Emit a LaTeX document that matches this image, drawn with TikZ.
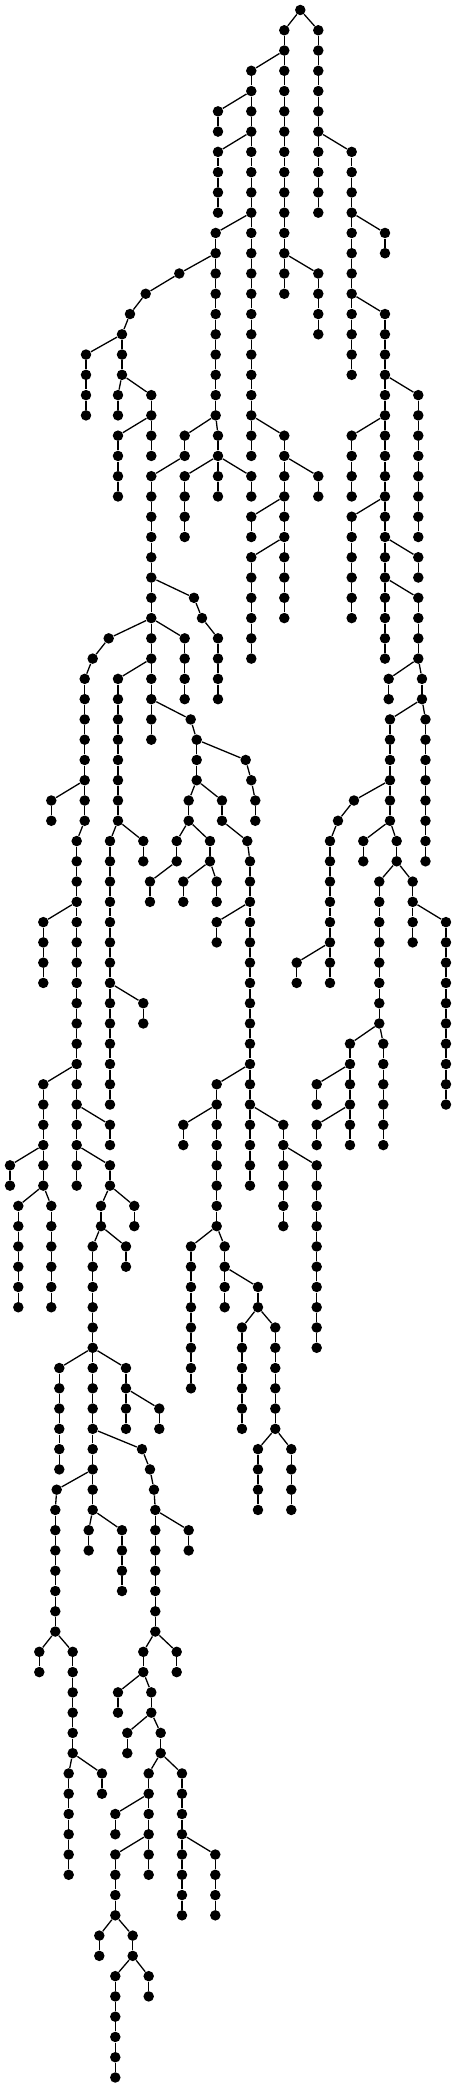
\documentclass[tikz,border=0pt]{standalone}
\usepackage{tikz}

% a vertical run of vertices: name, x, first row, last row, parent
\newcommand{\vchain}[5]{%
  \foreach \k [remember=\k as \prev (initially #3)] in {#3,...,#4}{%
    \node[vertex] (#1-\k) at (#2,\k) {};
    \ifnum\k>#3\relax \draw[link] (#1-\prev) -- (#1-\k);\fi
  }%
  \draw[link] (#5) -- (#1-#3);%
}

\begin{document}
\begin{tikzpicture}[
    x=0.5pt, y=-10.135pt,
    vertex/.style={circle, fill=black, inner sep=0pt, minimum size=5.25pt},
    link/.style={line width=0.65pt, black}
]
    \useasboundingbox (0,-0.4933) rectangle (456,102.47);

    % Root
    \node[vertex] (root) at (300.3,0) {};

    % Upper part
    \vchain{a}{284.3}{1}{14}{root}
    \vchain{b}{318.3}{1}{10}{root}
    \vchain{c}{251.3}{3}{22}{a-2}
    \vchain{d}{218}{5}{6}{c-4}
    \vchain{e}{218}{7}{10}{c-6}
    \vchain{f}{351.7}{7}{18}{b-6}
    \vchain{g}{215.7}{11}{20}{c-10}
    \vchain{h}{385}{11}{12}{f-10}
    \vchain{i}{318.3}{13}{16}{a-12}
    \vchain{j}{179.3}{13}{13}{g-12}
    \vchain{j}{145.7}{14}{14}{j-13}
    \vchain{j}{130}{15}{15}{j-14}
    \vchain{k}{122}{16}{18}{j-15}
    \vchain{l}{385}{15}{32}{f-14}
    \vchain{m}{86}{17}{20}{k-16}
    \vchain{n}{118}{19}{20}{k-18}
    \vchain{o}{151.3}{19}{22}{k-18}
    \vchain{p}{418.3}{19}{26}{l-18}
    \vchain{q}{118}{21}{24}{o-20}
    \vchain{r}{184.7}{21}{22}{g-20}
    \vchain{s}{218}{21}{22}{g-20}
    \vchain{t}{284.3}{21}{30}{c-20}
    \vchain{u}{351.7}{21}{24}{l-20}
    \vchain{v}{151.3}{23}{36}{r-22}
    \vchain{w}{184.7}{23}{26}{s-22}
    \vchain{x}{218}{23}{24}{s-22}
    \vchain{y}{251.3}{23}{24}{s-22}
    \vchain{z}{318.3}{23}{24}{t-22}
    \vchain{aa}{251.3}{25}{26}{t-24}
    \vchain{ab}{351.7}{25}{30}{l-24}
    \vchain{ac}{251.3}{27}{32}{t-26}
    \vchain{ad}{418.3}{27}{28}{l-26}
    \vchain{ae}{194}{29}{29}{v-28}
    \vchain{ae}{202}{30}{30}{ae-29}
    \vchain{ae}{218}{31}{34}{ae-30}
    \vchain{ag}{418.3}{29}{32}{l-28}
    \vchain{ah}{108.7}{31}{31}{v-30}
    \vchain{ah}{92.7}{32}{32}{ah-31}
    \vchain{ah}{84.7}{33}{40}{ah-32}
    \vchain{ai}{184.7}{31}{34}{v-30}
    \vchain{aj}{118}{33}{40}{v-32}
    \vchain{ak}{388.7}{33}{34}{ag-32}
    \vchain{al}{422}{33}{34}{ag-32}

    % Middle part
    \vchain{am}{190.7}{35}{35}{v-34}
    \vchain{am}{196.7}{36}{38}{am-35}
    \vchain{an}{390}{35}{40}{al-34}
    \vchain{ao}{425.5}{35}{42}{al-34}
    \vchain{ap}{245.7}{37}{37}{am-36}
    \vchain{ap}{251.3}{38}{38}{ap-37}
    \vchain{ap}{255.3}{39}{40}{ap-38}
    \vchain{aq}{51.3}{39}{40}{ah-38}
    \vchain{ar}{188.7}{39}{40}{am-38}
    \vchain{as}{222}{39}{40}{am-38}
    \vchain{at}{247.3}{41}{41}{as-40}
    \vchain{at}{250}{42}{58}{at-41}
    \vchain{au}{354}{39}{39}{an-38}
    \vchain{au}{338}{40}{40}{au-39}
    \vchain{au}{330}{41}{48}{au-40}
    \vchain{av}{76.7}{41}{58}{ah-40}
    \vchain{aw}{110}{41}{54}{aj-40}
    \vchain{ax}{143.3}{41}{42}{aj-40}
    \vchain{ay}{176.7}{41}{42}{ar-40}
    \vchain{az}{210}{41}{42}{ar-40}
    \vchain{ba}{363.3}{41}{42}{an-40}
    \vchain{bb}{396.7}{41}{42}{an-40}
    \vchain{bc}{150}{43}{44}{ay-42}
    \vchain{bd}{183.3}{43}{44}{az-42}
    \vchain{be}{216.7}{43}{44}{az-42}
    \vchain{bf}{379.3}{43}{50}{bb-42}
    \vchain{bg}{412.7}{43}{46}{bb-42}
    \vchain{bh}{43.3}{45}{48}{av-44}
    \vchain{bi}{216.7}{45}{46}{at-44}
    \vchain{bj}{446}{45}{54}{bg-44}
    \vchain{bk}{296.7}{47}{48}{au-46}
    \vchain{bl}{143.3}{49}{50}{aw-48}
    \vchain{bm}{350}{51}{56}{bf-50}
    \vchain{bn}{383.3}{51}{56}{bf-50}
    \vchain{bo}{43.3}{53}{58}{av-52}
    \vchain{bp}{216.7}{53}{60}{at-52}
    \vchain{bq}{316.7}{53}{54}{bm-52}
    \vchain{br}{110}{55}{56}{av-54}
    \vchain{bs}{183.3}{55}{56}{bp-54}
    \vchain{bt}{283.3}{55}{60}{at-54}
    \vchain{bu}{316.7}{55}{56}{bm-54}
    \vchain{bv}{10}{57}{58}{bo-56}
    \vchain{bw}{110}{57}{58}{av-56}
    \vchain{bx}{316.7}{57}{66}{bt-56}

    % Lower part
    \vchain{by}{18.3}{59}{64}{bo-58}
    \vchain{bz}{51.3}{59}{64}{bo-58}
    \vchain{ca}{101}{59}{60}{bw-58}
    \vchain{cb}{134.3}{59}{60}{bw-58}
    \vchain{cc}{92.7}{61}{74}{ca-60}
    \vchain{cd}{126}{61}{62}{ca-60}
    \vchain{ce}{191}{61}{68}{bp-60}
    \vchain{cf}{224.7}{61}{64}{bp-60}
    \vchain{cg}{258}{63}{64}{cf-62}
    \vchain{ch}{242}{65}{70}{cg-64}
    \vchain{ci}{275.3}{65}{70}{cg-64}
    \vchain{cj}{59.3}{67}{72}{cc-66}
    \vchain{ck}{126}{67}{70}{cc-66}
    \vchain{cl}{159.3}{69}{70}{ck-68}
    \vchain{cm}{142}{71}{71}{cc-70}
    \vchain{cm}{150}{72}{72}{cm-71}
    \vchain{cm}{154}{73}{73}{cm-72}
    \vchain{cm}{155.3}{74}{80}{cm-73}
    \vchain{cn}{258}{71}{74}{ci-70}
    \vchain{co}{291.3}{71}{74}{ci-70}
    \vchain{cp}{56.7}{73}{73}{cc-72}
    \vchain{cp}{55.3}{74}{80}{cp-73}
    \vchain{cq}{88.7}{75}{76}{cc-74}
    \vchain{cr}{122}{75}{78}{cc-74}
    \vchain{cs}{188.7}{75}{76}{cm-74}
    \vchain{ct}{39.3}{81}{82}{cp-80}
    \vchain{cu}{72.7}{81}{86}{cp-80}
    \vchain{cv}{143.3}{81}{82}{cm-80}
    \vchain{cw}{176.7}{81}{82}{cm-80}
    \vchain{cx}{118}{83}{84}{cv-82}
    \vchain{cy}{151.3}{83}{84}{cv-82}
    \vchain{cz}{127.3}{85}{86}{cy-84}
    \vchain{da}{160.7}{85}{86}{cy-84}
    \vchain{db}{68.7}{87}{92}{cu-86}
    \vchain{dc}{102}{87}{88}{cu-86}
    \vchain{dd}{148.7}{87}{92}{da-86}
    \vchain{de}{182}{87}{94}{da-86}
    \vchain{df}{115.3}{89}{90}{dd-88}
    \vchain{dg}{115.3}{91}{94}{dd-90}
    \vchain{dh}{215.3}{91}{94}{de-90}
    \vchain{di}{99.3}{95}{96}{dg-94}
    \vchain{dj}{132.7}{95}{96}{dg-94}
    \vchain{dk}{115.3}{97}{102}{dj-96}
    \vchain{dl}{148.7}{97}{98}{dj-96}
\end{tikzpicture}
\end{document}
